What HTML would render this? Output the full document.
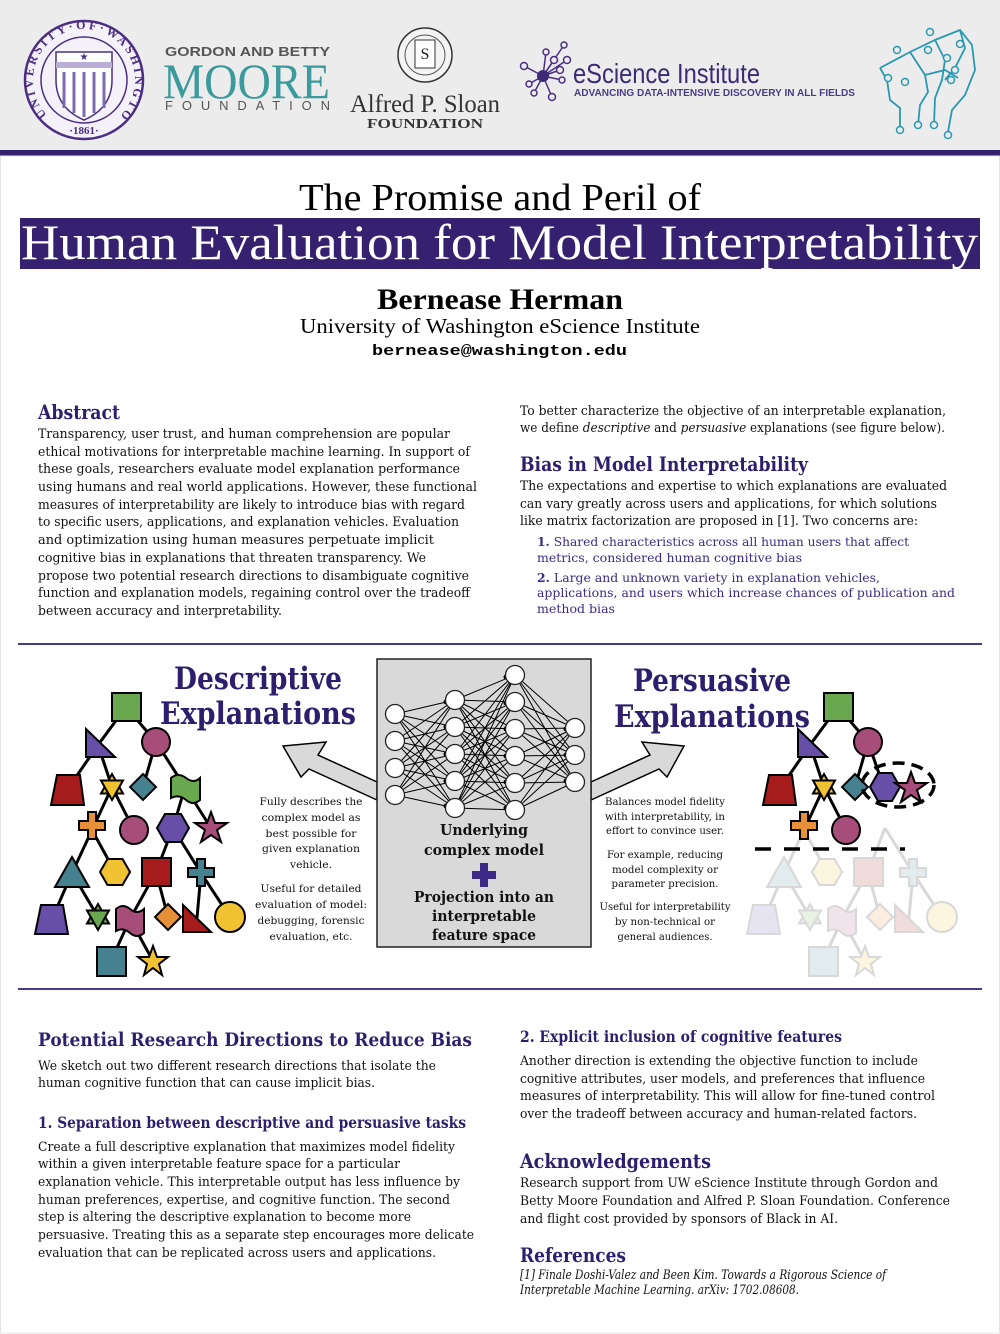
<!DOCTYPE html>
<html><head><meta charset="utf-8"><style>
html,body{margin:0;padding:0;background:#fff;}
svg{display:block;}
.b{font-family:"DejaVu Serif","Liberation Serif",serif;font-size:13px;fill:#111;}
.l{font-family:"DejaVu Serif","Liberation Serif",serif;font-size:12.5px;fill:#3b2a86;}
.h{font-family:"DejaVu Serif","Liberation Serif",serif;font-weight:bold;fill:#2e1f6e;}
.s{font-family:"DejaVu Serif","Liberation Serif",serif;font-size:10.5px;fill:#111;}
.c{font-family:"DejaVu Serif","Liberation Serif",serif;font-weight:bold;font-size:15px;fill:#111;}
</style></head><body>
<svg width="1000" height="1334" viewBox="0 0 1000 1334" xmlns="http://www.w3.org/2000/svg">
<defs>
<g id="edgesTop" stroke="#000" stroke-width="3">
<line x1="126" y1="707" x2="98" y2="745"/><line x1="126" y1="707" x2="156" y2="742"/>
<line x1="98" y1="745" x2="67" y2="790"/><line x1="98" y1="745" x2="112" y2="787"/>
<line x1="156" y1="742" x2="143" y2="787"/>
<line x1="112" y1="787" x2="92" y2="830"/><line x1="112" y1="787" x2="134" y2="830"/>
</g>
<g id="edgesBottom" stroke="#000" stroke-width="3">
<line x1="92" y1="830" x2="72" y2="873"/><line x1="92" y1="830" x2="115" y2="872"/>
<line x1="173" y1="828" x2="156" y2="872"/><line x1="173" y1="828" x2="201" y2="873"/>
<line x1="72" y1="873" x2="52" y2="919"/><line x1="72" y1="873" x2="98" y2="917"/>
<line x1="156" y1="872" x2="130" y2="919"/><line x1="156" y1="872" x2="168" y2="917"/>
<line x1="201" y1="873" x2="197" y2="918"/><line x1="201" y1="873" x2="230" y2="917"/>
<line x1="130" y1="919" x2="111" y2="961"/><line x1="130" y1="919" x2="153" y2="961"/>
</g>
<g id="shapesTop" stroke="#000" stroke-width="2">
<rect x="112" y="693" width="29" height="28" fill="#6aa84f"/>
<polygon points="86,729 86,757 115,757" fill="#674ea7"/>
<circle cx="156" cy="742" r="14" fill="#a64d79"/>
<polygon points="57,775 80,775 84,805 51,805" fill="#a61c1c"/>
<polygon points="112,774 123,793.5 101,793.5" fill="#f1c232"/><polygon points="112,800 123,780.5 101,780.5" fill="#f1c232"/>
<polygon points="143,774 156,787 143,800 130,787" fill="#45818e"/>
<path d="M79,822 h9 v-9 h8 v9 h9 v9 h-9 v9 h-8 v-9 h-9 z" transform="translate(0,-1)" fill="#e69138"/>
<circle cx="134" cy="830" r="14" fill="#a64d79"/>
</g>
<g id="shapesBottom" stroke="#000" stroke-width="2">
<polygon points="72,857 89,887 55,887" fill="#45818e"/>
<polygon points="100,872 107.5,859 122.5,859 130,872 122.5,885 107.5,885" fill="#f1c232"/>
<rect x="142" y="858" width="29" height="28" fill="#a61c1c"/>
<path d="M188,864 h9 v-9 h8 v9 h9 v9 h-9 v9 h-8 v-9 h-9 z" transform="translate(0,4)" fill="#45818e"/>
<polygon points="41,905 63,905 68,934 35,934" fill="#674ea7"/>
<polygon points="98,904 109,923.5 87,923.5" fill="#6aa84f"/><polygon points="98,930 109,910.5 87,910.5" fill="#6aa84f"/>
<path d="M116,909 Q123,903 130,909 T144,909 L144,933 Q137,939 130,933 T116,931 Z" fill="#a64d79"/>
<polygon points="168,904 181,917 168,930 155,917" fill="#e69138"/>
<polygon points="183,905 183,932 211,932" fill="#a61c1c"/>
<circle cx="230" cy="917" r="15" fill="#f1c232"/>
<rect x="97" y="947" width="29" height="29" fill="#45818e"/>
<polygon points="153,946 157,957 168,957 159,964 162,975 153,968 144,975 147,964 138,957 149,957" fill="#f1c232"/>
</g>
</defs>

<!-- header -->
<rect x="0" y="0" width="1000" height="150" fill="#ececec"/>
<rect x="0" y="150" width="1000" height="6" fill="#33236f"/>
<rect x="0.5" y="156" width="999" height="1177" fill="none" stroke="#e4e4e4"/>

<!-- UW seal -->
<circle cx="84" cy="80" r="59" fill="#f4f2f8" stroke="#4b2e83" stroke-width="2.5"/>
<circle cx="84" cy="80" r="43" fill="none" stroke="#4b2e83" stroke-width="1.5"/>
<path id="uwp" d="M 47,115 A 51,51 0 1,1 121,115" fill="none"/>
<text font-family="Liberation Serif,serif" font-size="12" font-weight="bold" fill="#4b2e83"><textPath href="#uwp" textLength="250" lengthAdjust="spacing">UNIVERSITY·OF·WASHINGTON</textPath></text>
<text x="84" y="134" text-anchor="middle" font-family="Liberation Serif,serif" font-size="11" font-weight="bold" fill="#4b2e83">·1861·</text>
<path d="M56,52 L112,52 L112,80 Q112,108 84,120 Q56,108 56,80 Z" fill="#fff" stroke="#4b2e83" stroke-width="1.5"/>
<rect x="56" y="62" width="56" height="6" fill="#b9aed6"/>
<g stroke="#7c6bb0" stroke-width="3"><line x1="64" y1="72" x2="64" y2="108"/><line x1="74" y1="72" x2="74" y2="113"/><line x1="84" y1="72" x2="84" y2="117"/><line x1="94" y1="72" x2="94" y2="113"/><line x1="104" y1="72" x2="104" y2="108"/></g>
<text x="84" y="60" text-anchor="middle" font-size="10" fill="#4b2e83">★</text>

<!-- Moore -->
<text x="165" y="56" textLength="165" lengthAdjust="spacingAndGlyphs" font-family="Liberation Sans,sans-serif" font-weight="bold" font-size="12.5" fill="#555">GORDON AND BETTY</text>
<text x="163" y="98" textLength="167" lengthAdjust="spacingAndGlyphs" font-family="Liberation Serif,serif" font-size="50" fill="#3a9a9c">MOORE</text>
<text x="165" y="110" textLength="165" lengthAdjust="spacing" font-family="Liberation Sans,sans-serif" font-size="13" fill="#555">FOUNDATION</text>

<!-- Sloan -->
<circle cx="425" cy="55" r="27" fill="#f4f4f4" stroke="#333" stroke-width="1.5"/>
<circle cx="425" cy="55" r="20" fill="none" stroke="#555" stroke-width="1"/>
<rect x="415" y="40" width="20" height="28" fill="#fff" stroke="#333"/>
<text x="425" y="59" text-anchor="middle" font-family="Liberation Serif,serif" font-size="16" fill="#222">S</text>
<text x="350" y="112" textLength="150" lengthAdjust="spacingAndGlyphs" font-family="Liberation Serif,serif" font-size="25" fill="#333">Alfred P. Sloan</text>
<text x="367" y="128" textLength="116" lengthAdjust="spacingAndGlyphs" font-family="Liberation Serif,serif" font-weight="bold" font-size="14" fill="#333">FOUNDATION</text>

<!-- eScience -->
<g stroke="#4b2e83" stroke-width="1.5" fill="#ececec">
<line x1="543" y1="76" x2="524" y2="66"/><line x1="543" y1="76" x2="529" y2="84"/><line x1="543" y1="76" x2="534" y2="93"/><line x1="543" y1="76" x2="552" y2="97"/><line x1="543" y1="76" x2="562" y2="80"/><line x1="543" y1="76" x2="560" y2="70"/><line x1="543" y1="76" x2="554" y2="60"/><line x1="543" y1="76" x2="564" y2="45"/><line x1="543" y1="76" x2="546" y2="52"/><line x1="543" y1="76" x2="567" y2="60"/>
<circle cx="524" cy="66" r="3.5"/><circle cx="529" cy="84" r="3"/><circle cx="534" cy="93" r="3"/><circle cx="552" cy="97" r="3.5"/><circle cx="562" cy="80" r="3"/><circle cx="560" cy="70" r="3.5"/><circle cx="554" cy="60" r="3.5"/><circle cx="564" cy="45" r="3"/><circle cx="546" cy="52" r="3"/><circle cx="567" cy="60" r="3.5"/>
</g>
<circle cx="543" cy="76" r="6" fill="#3d2a75"/>
<text x="573" y="83" textLength="187" lengthAdjust="spacingAndGlyphs" font-family="Liberation Sans,sans-serif" font-size="28" fill="#3d2a75">eScience Institute</text>
<text x="574" y="96" textLength="281" lengthAdjust="spacingAndGlyphs" font-family="Liberation Sans,sans-serif" font-weight="bold" font-size="10.5" fill="#4b3c85">ADVANCING DATA-INTENSIVE DISCOVERY IN ALL FIELDS</text>

<!-- fist -->
<g stroke="#2a98b3" stroke-width="1.8" fill="none">
<path d="M880,68 L910,52 L935,40 L960,30 L972,45 L975,70 L965,95 L952,110 L948,132"/>
<path d="M880,68 L887,80 L890,100 L900,108 L900,130"/>
<path d="M910,52 L925,75 L928,92 L920,105 L918,125"/>
<path d="M935,40 L945,60 L942,80 L935,98 L934,125"/>
<path d="M960,30 L965,48 L955,68 L945,80"/>
<path d="M925,75 L945,70 L958,78"/>
</g>
<g stroke="#2a98b3" stroke-width="1.5" fill="#ececec">
<circle cx="897" cy="50" r="3.5"/><circle cx="930" cy="32" r="3.5"/><circle cx="960" cy="44" r="3.5"/><circle cx="928" cy="50" r="3.5"/><circle cx="947" cy="58" r="3.5"/><circle cx="955" cy="70" r="3.5"/><circle cx="951" cy="80" r="3.5"/><circle cx="888" cy="78" r="3.5"/><circle cx="905" cy="82" r="3.5"/><circle cx="900" cy="130" r="3.5"/><circle cx="918" cy="125" r="3.5"/><circle cx="934" cy="125" r="3.5"/><circle cx="948" cy="135" r="3.5"/>
</g>

<!-- title -->
<text x="299" y="210" textLength="402" lengthAdjust="spacingAndGlyphs" font-family="Liberation Serif,serif" font-size="38" fill="#000">The Promise and Peril of</text>
<rect x="20" y="218" width="960" height="51" fill="#35216f"/>
<text x="21" y="259" textLength="957" lengthAdjust="spacingAndGlyphs" font-family="Liberation Serif,serif" font-size="50" fill="#fff">Human Evaluation for Model Interpretability</text>
<text x="377" y="309" textLength="246" lengthAdjust="spacingAndGlyphs" font-family="Liberation Serif,serif" font-weight="bold" font-size="30" fill="#000">Bernease Herman</text>
<text x="300" y="333" textLength="400" lengthAdjust="spacingAndGlyphs" font-family="Liberation Serif,serif" font-size="21" fill="#000">University of Washington eScience Institute</text>
<text x="372" y="355" textLength="255" lengthAdjust="spacingAndGlyphs" font-family="Liberation Mono,monospace" font-weight="bold" font-size="15" fill="#000">bernease@washington.edu</text>

<!-- Abstract -->
<text class="h" x="38" y="419" font-size="20" textLength="82" lengthAdjust="spacingAndGlyphs">Abstract</text>
<g class="b">
<text x="38" y="438" textLength="412" lengthAdjust="spacingAndGlyphs">Transparency, user trust, and human comprehension are popular</text>
<text x="38" y="456" textLength="432" lengthAdjust="spacingAndGlyphs">ethical motivations for interpretable machine learning. In support of</text>
<text x="38" y="473" textLength="422" lengthAdjust="spacingAndGlyphs">these goals, researchers evaluate model explanation performance</text>
<text x="38" y="491" textLength="439" lengthAdjust="spacingAndGlyphs">using humans and real world applications.  However, these functional</text>
<text x="38" y="509" textLength="427" lengthAdjust="spacingAndGlyphs">measures of interpretability are likely to introduce bias with regard</text>
<text x="38" y="526" textLength="421" lengthAdjust="spacingAndGlyphs">to specific users, applications, and explanation vehicles. Evaluation</text>
<text x="38" y="544" textLength="396" lengthAdjust="spacingAndGlyphs">and optimization using human measures perpetuate implicit</text>
<text x="38" y="562" textLength="388" lengthAdjust="spacingAndGlyphs">cognitive bias in explanations that threaten transparency. We</text>
<text x="38" y="580" textLength="431" lengthAdjust="spacingAndGlyphs">propose two potential research directions to disambiguate cognitive</text>
<text x="38" y="597" textLength="432" lengthAdjust="spacingAndGlyphs">function and explanation models, regaining control over the tradeoff</text>
<text x="38" y="615" textLength="244" lengthAdjust="spacingAndGlyphs">between accuracy and interpretability.</text>
</g>

<!-- right col top -->
<g class="b">
<text x="520" y="415" textLength="426" lengthAdjust="spacingAndGlyphs">To better characterize the objective of an interpretable explanation,</text>
<text x="520" y="432" textLength="425" lengthAdjust="spacingAndGlyphs">we define <tspan font-style="italic">descriptive</tspan> and <tspan font-style="italic">persuasive</tspan> explanations (see figure below).</text>
</g>
<text class="h" x="520" y="471" font-size="20" textLength="288" lengthAdjust="spacingAndGlyphs">Bias in Model Interpretability</text>
<g class="b">
<text x="520" y="490" textLength="427" lengthAdjust="spacingAndGlyphs">The expectations and expertise to which explanations are evaluated</text>
<text x="520" y="508" textLength="417" lengthAdjust="spacingAndGlyphs">can vary greatly across users and applications, for which solutions</text>
<text x="520" y="525" textLength="398" lengthAdjust="spacingAndGlyphs">like matrix factorization are proposed in [1]. Two concerns are:</text>
</g>
<g class="l">
<text x="537" y="546" textLength="372" lengthAdjust="spacingAndGlyphs"><tspan font-weight="bold">1.</tspan> Shared characteristics across all human users that affect</text>
<text x="537" y="562" textLength="265" lengthAdjust="spacingAndGlyphs">metrics, considered human cognitive bias</text>
<text x="537" y="582" textLength="343" lengthAdjust="spacingAndGlyphs"><tspan font-weight="bold">2.</tspan> Large and unknown variety in explanation vehicles,</text>
<text x="537" y="597" textLength="418" lengthAdjust="spacingAndGlyphs">applications, and users which increase chances of publication and</text>
<text x="537" y="613" textLength="78" lengthAdjust="spacingAndGlyphs">method bias</text>
</g>

<!-- diagram -->
<line x1="18" y1="644" x2="982" y2="644" stroke="#4a3a8a" stroke-width="2"/>
<line x1="18" y1="989" x2="982" y2="989" stroke="#4a3a8a" stroke-width="2"/>

<!-- left tree -->
<use href="#edgesTop"/>
<g stroke="#000" stroke-width="3"><line x1="156" y1="742" x2="185" y2="787"/><line x1="185" y1="787" x2="173" y2="828"/><line x1="185" y1="787" x2="211" y2="828"/></g>
<use href="#edgesBottom"/>
<use href="#shapesTop"/>
<g stroke="#000" stroke-width="2">
<path d="M171,778 Q178,772 186,778 T200,778 L200,800 Q193,806 186,800 T171,798 Z" fill="#6aa84f"/>
<polygon points="157,828 165,814 181,814 189,828 181,842 165,842" fill="#674ea7"/>
<polygon points="211,812 215,823 227,823 217,830 221,842 211,835 201,842 205,830 195,823 207,823" fill="#a64d79"/>
</g>
<use href="#shapesBottom"/>

<!-- right tree -->
<g transform="translate(712,0)">
<g opacity="0.15"><use href="#edgesBottom"/><use href="#shapesBottom"/></g>
<use href="#edgesTop"/>
<line x1="156" y1="742" x2="170" y2="782" stroke="#000" stroke-width="3"/>
<use href="#shapesTop"/>
<g stroke="#000" stroke-width="2">
<polygon points="158,787 166,773 180,773 188,787 180,801 166,801" fill="#674ea7"/>
<polygon points="199,772 203,783 215,783 205,790 209,802 199,795 189,802 193,790 183,783 195,783" fill="#a64d79"/>
</g>
<ellipse cx="186" cy="785" rx="36" ry="22" fill="none" stroke="#000" stroke-width="3.5" stroke-dasharray="12,7"/>
<line x1="43" y1="849" x2="193" y2="849" stroke="#000" stroke-width="3.5" stroke-dasharray="16,13"/>
</g>

<!-- arrows -->
<polygon points="283,746 326,742 318,755 377,782 377,800 309,769 301,777" fill="#d9d9d9" stroke="#000" stroke-width="1.5"/>
<polygon points="684,746 642,742 650,755 591,782 591,800 659,769 667,777" fill="#d9d9d9" stroke="#000" stroke-width="1.5"/>

<!-- center box -->
<rect x="377" y="659" width="214" height="288" fill="#d9d9d9" stroke="#222" stroke-width="1.5"/>
<g stroke="#000" stroke-width="1">
<path d="M395,714 L455,700 M395,714 L455,727 M395,714 L455,754 M395,714 L455,781 M395,714 L455,808
M395,741 L455,700 M395,741 L455,727 M395,741 L455,754 M395,741 L455,781 M395,741 L455,808
M395,768 L455,700 M395,768 L455,727 M395,768 L455,754 M395,768 L455,781 M395,768 L455,808
M395,795 L455,700 M395,795 L455,727 M395,795 L455,754 M395,795 L455,781 M395,795 L455,808"/>
<path d="M455,700 L515,675 M455,700 L515,702 M455,700 L515,729 M455,700 L515,756 M455,700 L515,783 M455,700 L515,810
M455,727 L515,675 M455,727 L515,702 M455,727 L515,729 M455,727 L515,756 M455,727 L515,783 M455,727 L515,810
M455,754 L515,675 M455,754 L515,702 M455,754 L515,729 M455,754 L515,756 M455,754 L515,783 M455,754 L515,810
M455,781 L515,675 M455,781 L515,702 M455,781 L515,729 M455,781 L515,756 M455,781 L515,783 M455,781 L515,810
M455,808 L515,675 M455,808 L515,702 M455,808 L515,729 M455,808 L515,756 M455,808 L515,783 M455,808 L515,810"/>
<path d="M515,675 L575,728 M515,675 L575,755 M515,675 L575,782
M515,702 L575,728 M515,702 L575,755 M515,702 L575,782
M515,729 L575,728 M515,729 L575,755 M515,729 L575,782
M515,756 L575,728 M515,756 L575,755 M515,756 L575,782
M515,783 L575,728 M515,783 L575,755 M515,783 L575,782
M515,810 L575,728 M515,810 L575,755 M515,810 L575,782"/>
</g>
<g fill="#000">
<circle cx="446" cy="702" r="2.5"/><circle cx="446" cy="727" r="2.5"/><circle cx="446" cy="754" r="2.5"/><circle cx="446" cy="781" r="2.5"/><circle cx="446" cy="806" r="2.5"/>
<circle cx="506" cy="677" r="2.5"/><circle cx="506" cy="703" r="2.5"/><circle cx="506" cy="729" r="2.5"/><circle cx="506" cy="756" r="2.5"/><circle cx="506" cy="782" r="2.5"/><circle cx="506" cy="808" r="2.5"/>
<circle cx="566" cy="729" r="2.5"/><circle cx="566" cy="755" r="2.5"/><circle cx="566" cy="781" r="2.5"/>
</g>
<g fill="#fff" stroke="#222" stroke-width="1.3">
<circle cx="395" cy="714" r="9.5"/><circle cx="395" cy="741" r="9.5"/><circle cx="395" cy="768" r="9.5"/><circle cx="395" cy="795" r="9.5"/>
<circle cx="455" cy="700" r="9.5"/><circle cx="455" cy="727" r="9.5"/><circle cx="455" cy="754" r="9.5"/><circle cx="455" cy="781" r="9.5"/><circle cx="455" cy="808" r="9.5"/>
<circle cx="515" cy="675" r="9.5"/><circle cx="515" cy="702" r="9.5"/><circle cx="515" cy="729" r="9.5"/><circle cx="515" cy="756" r="9.5"/><circle cx="515" cy="783" r="9.5"/><circle cx="515" cy="810" r="9.5"/>
<circle cx="575" cy="728" r="9.5"/><circle cx="575" cy="755" r="9.5"/><circle cx="575" cy="782" r="9.5"/>
</g>
<rect x="378" y="820" width="212" height="126" fill="#d9d9d9"/>
<g class="c" text-anchor="middle">
<text x="484" y="835" textLength="88" lengthAdjust="spacingAndGlyphs">Underlying</text>
<text x="484" y="855" textLength="120" lengthAdjust="spacingAndGlyphs">complex model</text>
<text x="484" y="902" textLength="140" lengthAdjust="spacingAndGlyphs">Projection into an</text>
<text x="484" y="921" textLength="104" lengthAdjust="spacingAndGlyphs">interpretable</text>
<text x="484" y="940" textLength="104" lengthAdjust="spacingAndGlyphs">feature space</text>
</g>
<path d="M480,863 h8 v8 h8 v8 h-8 v8 h-8 v-8 h-8 v-8 h8 z" fill="#3b2a86"/>

<!-- diagram headings -->
<g class="h" font-size="31" text-anchor="middle">
<text x="258" y="689" textLength="168" lengthAdjust="spacingAndGlyphs">Descriptive</text>
<text x="258" y="724" textLength="196" lengthAdjust="spacingAndGlyphs">Explanations</text>
<text x="712" y="691" textLength="158" lengthAdjust="spacingAndGlyphs">Persuasive</text>
<text x="712" y="727" textLength="196" lengthAdjust="spacingAndGlyphs">Explanations</text>
</g>
<g class="s" text-anchor="middle">
<text x="311" y="805" textLength="103" lengthAdjust="spacingAndGlyphs">Fully describes the</text>
<text x="311" y="821" textLength="99" lengthAdjust="spacingAndGlyphs">complex model as</text>
<text x="311" y="837" textLength="91" lengthAdjust="spacingAndGlyphs">best possible for</text>
<text x="311" y="852" textLength="98" lengthAdjust="spacingAndGlyphs">given explanation</text>
<text x="311" y="868" textLength="42" lengthAdjust="spacingAndGlyphs">vehicle.</text>
<text x="311" y="892" textLength="101" lengthAdjust="spacingAndGlyphs">Useful for detailed</text>
<text x="311" y="908" textLength="112" lengthAdjust="spacingAndGlyphs">evaluation of model:</text>
<text x="311" y="924" textLength="107" lengthAdjust="spacingAndGlyphs">debugging, forensic</text>
<text x="311" y="940" textLength="83" lengthAdjust="spacingAndGlyphs">evaluation, etc.</text>
<text x="665" y="805" textLength="120" lengthAdjust="spacingAndGlyphs">Balances model fidelity</text>
<text x="665" y="820" textLength="120" lengthAdjust="spacingAndGlyphs">with interpretability, in</text>
<text x="665" y="834" textLength="118" lengthAdjust="spacingAndGlyphs">effort to convince user.</text>
<text x="665" y="858" textLength="116" lengthAdjust="spacingAndGlyphs">For example,  reducing</text>
<text x="665" y="873" textLength="106" lengthAdjust="spacingAndGlyphs">model complexity or</text>
<text x="665" y="887" textLength="107" lengthAdjust="spacingAndGlyphs">parameter precision.</text>
<text x="665" y="910" textLength="131" lengthAdjust="spacingAndGlyphs">Useful for interpretability</text>
<text x="665" y="925" textLength="100" lengthAdjust="spacingAndGlyphs">by non-technical or</text>
<text x="665" y="940" textLength="95" lengthAdjust="spacingAndGlyphs">general audiences.</text>
</g>

<!-- bottom left -->
<text class="h" x="38" y="1046" font-size="19" textLength="434" lengthAdjust="spacingAndGlyphs">Potential Research Directions to Reduce Bias</text>
<g class="b">
<text x="38" y="1070" textLength="398" lengthAdjust="spacingAndGlyphs">We sketch out two different research directions that isolate the</text>
<text x="38" y="1087" textLength="337" lengthAdjust="spacingAndGlyphs">human cognitive function that can cause implicit bias.</text>
</g>
<text class="h" x="38" y="1128" font-size="16" textLength="428" lengthAdjust="spacingAndGlyphs">1. Separation between descriptive and persuasive tasks</text>
<g class="b">
<text x="38" y="1151" textLength="417" lengthAdjust="spacingAndGlyphs">Create a full descriptive explanation that maximizes model fidelity</text>
<text x="38" y="1168" textLength="362" lengthAdjust="spacingAndGlyphs">within a given interpretable feature space for a particular</text>
<text x="38" y="1186" textLength="422" lengthAdjust="spacingAndGlyphs">explanation vehicle. This interpretable output has less influence by</text>
<text x="38" y="1204" textLength="412" lengthAdjust="spacingAndGlyphs">human preferences, expertise, and cognitive function. The second</text>
<text x="38" y="1221" textLength="373" lengthAdjust="spacingAndGlyphs">step is altering the descriptive explanation to become more</text>
<text x="38" y="1239" textLength="436" lengthAdjust="spacingAndGlyphs">persuasive. Treating this as a separate step encourages more delicate</text>
<text x="38" y="1257" textLength="398" lengthAdjust="spacingAndGlyphs">evaluation that can be replicated across users and applications.</text>
</g>

<!-- bottom right -->
<text class="h" x="520" y="1042" font-size="16" textLength="322" lengthAdjust="spacingAndGlyphs">2. Explicit inclusion of cognitive features</text>
<g class="b">
<text x="520" y="1065" textLength="398" lengthAdjust="spacingAndGlyphs">Another direction is extending the objective function to include</text>
<text x="520" y="1083" textLength="405" lengthAdjust="spacingAndGlyphs">cognitive attributes, user models, and preferences that influence</text>
<text x="520" y="1100" textLength="415" lengthAdjust="spacingAndGlyphs">measures of interpretability. This will allow for fine-tuned control</text>
<text x="520" y="1118" textLength="397" lengthAdjust="spacingAndGlyphs">over the tradeoff between accuracy and human-related factors.</text>
</g>
<text class="h" x="520" y="1168" font-size="20" textLength="191" lengthAdjust="spacingAndGlyphs">Acknowledgements</text>
<g class="b">
<text x="520" y="1187" textLength="418" lengthAdjust="spacingAndGlyphs">Research support from UW eScience Institute through Gordon and</text>
<text x="520" y="1205" textLength="430" lengthAdjust="spacingAndGlyphs">Betty Moore Foundation and Alfred P. Sloan Foundation. Conference</text>
<text x="520" y="1223" textLength="318" lengthAdjust="spacingAndGlyphs">and flight cost provided by sponsors of Black in AI.</text>
</g>
<text class="h" x="520" y="1262" font-size="20" textLength="106" lengthAdjust="spacingAndGlyphs">References</text>
<g class="b" font-style="italic" font-size="11">
<text x="520" y="1279" textLength="366" lengthAdjust="spacingAndGlyphs">[1] Finale Doshi-Valez and Been Kim. Towards a Rigorous Science of</text>
<text x="520" y="1294" textLength="279" lengthAdjust="spacingAndGlyphs">Interpretable Machine Learning. arXiv: 1702.08608.</text>
</g>
</svg>
</body></html>
